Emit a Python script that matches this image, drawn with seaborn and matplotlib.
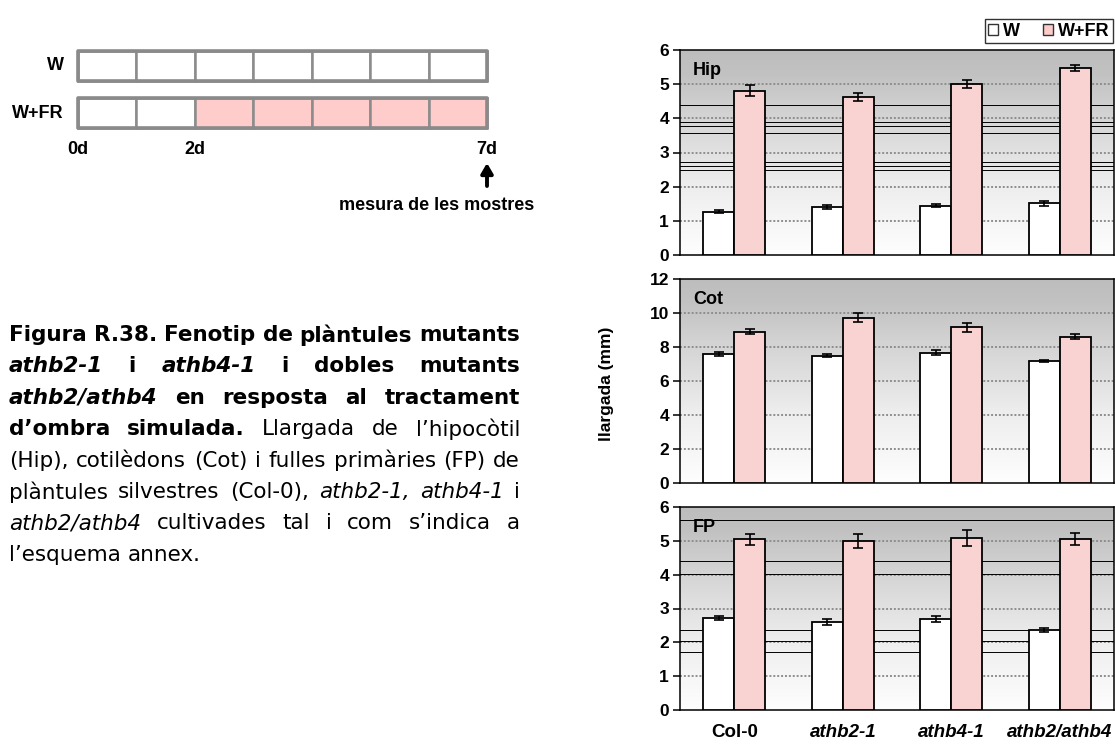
import numpy as np
import pandas as pd
import matplotlib
matplotlib.use("Agg")
import matplotlib.pyplot as plt
import seaborn as sns
from matplotlib.colors import LinearSegmentedColormap
from matplotlib.patches import Rectangle, Patch

# ---------------- data ----------------
genotypes = ["Col-0", "athb2-1", "athb4-1", "athb2/athb4"]
treatments = ["W", "W+FR"]

hip_W = [1.27, 1.41, 1.44, 1.51]
hip_W_err = [0.04, 0.05, 0.045, 0.07]
hip_FR = [4.81, 4.63, 5.01, 5.47]
hip_FR_err = [0.17, 0.11, 0.11, 0.09]

cot_W = [7.60, 7.50, 7.67, 7.17]
cot_W_err = [0.12, 0.10, 0.13, 0.08]
cot_FR = [8.91, 9.73, 9.16, 8.61]
cot_FR_err = [0.17, 0.25, 0.28, 0.15]

fp_W = [2.73, 2.61, 2.69, 2.36]
fp_W_err = [0.06, 0.09, 0.09, 0.06]
fp_FR = [5.05, 4.99, 5.09, 5.05]
fp_FR_err = [0.16, 0.21, 0.23, 0.17]

panel_names = ["Hip", "Cot", "FP"]
panel_ymax = [6, 12, 6]
panel_ystep = [1, 2, 1]
# thin stray lines visible in the original image
hip_stray = [4.38, 3.90, 3.78, 3.56, 2.73, 2.60, 2.49]
cot_stray = []
fp_stray = [5.63, 4.39, 4.02, 2.35, 2.03, 1.70]

# schematic
n_days = 7
fr_start_day = 2
schematic_rows = ["W", "W+FR"]
day_labels = ["0d", "2d", "7d"]
day_label_pos = [0, 2, 7]
measure_text = "mesura de les mostres"

# caption (runs of text with style: b bold, bi bold-italic, r regular, i italic)
caption_lines = [
    [("Figura R.38. Fenotip de plàntules mutants", "b")],
    [("athb2-1", "bi"), ("i", "b"), ("athb4-1", "bi"), ("i", "b"), ("dobles mutants", "b")],
    [("athb2/athb4", "bi"), ("en resposta al tractament", "b")],
    [("d’ombra simulada.", "b"), ("Llargada de l’hipocòtil", "r")],
    [("(Hip), cotilèdons (Cot) i fulles primàries (FP) de", "r")],
    [("plàntules silvestres (Col-0),", "r"), ("athb2-1, athb4-1", "i"), ("i", "r")],
    [("athb2/athb4", "i"), ("cultivades tal i com s’indica a", "r")],
    [("l’esquema annex.", "r")],
]

# ---------------- figure ----------------
W_PX, H_PX = 1115, 747
fig = plt.figure(figsize=(W_PX / 100, H_PX / 100), dpi=100)
fig.patch.set_facecolor("white")


def rect(l, t, w, h):
    return [l / W_PX, 1 - (t + h) / H_PX, w / W_PX, h / H_PX]


PANEL_FONT = "Liberation Sans"
PINK = "#ffcccc"

ov = fig.add_axes([0, 0, 1, 1], zorder=0)
ov.set_xlim(0, W_PX)
ov.set_ylim(H_PX, 0)
ov.axis("off")

# ---- schematic ----
sx0, sx1 = 78, 487
cw = (sx1 - sx0) / n_days
row_tops = [51, 98]
row_h = 30
for r, (name, top) in enumerate(zip(schematic_rows, row_tops)):
    for d in range(n_days):
        fc = PINK if (name == "W+FR" and d >= fr_start_day) else "white"
        ov.add_patch(Rectangle((sx0 + d * cw, top), cw, row_h, facecolor=fc,
                               edgecolor="#8c8c8c", lw=1.8))
    ov.add_patch(Rectangle((sx0, top), sx1 - sx0, row_h, facecolor="none",
                           edgecolor="#8a8a8a", lw=2.6, joinstyle="round"))
    ov.text(64, top + row_h / 2, name, ha="right", va="center", fontsize=13,
            fontweight="bold", family=PANEL_FONT)
for lab, pos in zip(day_labels, day_label_pos):
    ov.text(sx0 + pos * cw, 149, lab, ha="center", va="center", fontsize=13,
            fontweight="bold", family=PANEL_FONT)
ov.annotate("", xy=(sx1, 163), xytext=(sx1, 186),
            arrowprops=dict(arrowstyle="-|>,head_width=0.35,head_length=0.6",
                            color="black", lw=2.8, shrinkA=0, shrinkB=0))
ov.text(437, 206, measure_text, ha="center", va="center", fontsize=13,
        fontweight="bold", family=PANEL_FONT)

# ---- caption (justified) ----
renderer = fig.canvas.get_renderer()
styles = {
    "b": dict(fontweight="bold", fontstyle="normal"),
    "bi": dict(fontweight="bold", fontstyle="italic"),
    "r": dict(fontweight="normal", fontstyle="normal"),
    "i": dict(fontweight="normal", fontstyle="italic"),
}
CAP_FONT = "DejaVu Sans"


def wwidth(txt, st, size):
    t = fig.text(0, 0, txt, fontsize=size, family=CAP_FONT, **styles[st])
    w = t.get_window_extent(renderer).width
    t.remove()
    return w


cx0, cx1 = 9, 520
cap_w = cx1 - cx0
ref = caption_lines[4]
base = 10.0
words_ref = [(w, st) for txt, st in ref for w in txt.split(" ")]
space_ref = wwidth("a a", "r", base) - 2 * wwidth("a", "r", base)
nat = sum(wwidth(w, st, base) for w, st in words_ref) + space_ref * (len(words_ref) - 1)
cap_size = base * cap_w / nat * 0.99

y_first = 335
line_dy = 31.4
for i, runs in enumerate(caption_lines):
    words = [(w, st) for txt, st in runs for w in txt.split(" ")]
    widths = [wwidth(w, st, cap_size) for w, st in words]
    y = y_first + i * line_dy
    if i < len(caption_lines) - 1 and len(words) > 1:
        gap = (cap_w - sum(widths)) / (len(words) - 1)
    else:
        gap = wwidth("a a", "r", cap_size) - 2 * wwidth("a", "r", cap_size)
    x = cx0
    for (w, st), wd in zip(words, widths):
        ov.text(x, y, w, ha="left", va="center", fontsize=cap_size,
                family=CAP_FONT, **styles[st])
        x += wd + gap

# ---- bar panels ----
grad_cmap = LinearSegmentedColormap.from_list(
    "g", [(0, "#fefefe"), (0.35, "#ededed"), (0.7, "#d2d2d2"), (0.88, "#c2c2c2"), (1, "#bdbdbd")])

panel_rects = [rect(680, 50, 434, 205), rect(680, 279, 434, 204), rect(680, 507, 434, 203)]
panel_data = [
    (hip_W, hip_W_err, hip_FR, hip_FR_err, hip_stray),
    (cot_W, cot_W_err, cot_FR, cot_FR_err, cot_stray),
    (fp_W, fp_W_err, fp_FR, fp_FR_err, fp_stray),
]

for k, (name, ymax, ystep, prect, (w, we, f, fe, stray)) in enumerate(
        zip(panel_names, panel_ymax, panel_ystep, panel_rects, panel_data)):
    ax = fig.add_axes(prect, zorder=2)
    df = pd.DataFrame({
        "genotype": genotypes * 2,
        "treatment": ["W"] * 4 + ["W+FR"] * 4,
        "value": list(w) + list(f),
    })
    errs = {"W": we, "W+FR": fe}
    sns.barplot(data=df, x="genotype", y="value", hue="treatment", order=genotypes,
                hue_order=treatments, palette={"W": "white", "W+FR": PINK},
                edgecolor="black", linewidth=1.3, width=0.57, gap=0,
                errorbar=None, legend=False, ax=ax, zorder=3)
    for cont, tr in zip(ax.containers, treatments):
        vals = df[df.treatment == tr].set_index("genotype").loc[genotypes, "value"].values
        for bar, v, e in zip(cont, vals, errs[tr]):
            xc = bar.get_x() + bar.get_width() / 2
            ax.errorbar(xc, v, yerr=e, fmt="none", ecolor="black", elinewidth=1.2,
                        capsize=3.6, capthick=1.2, zorder=4)
    ax.set_xlim(-0.5, 3.5)
    ax.set_ylim(0, ymax)
    ax.imshow(np.linspace(0, 1, 256).reshape(-1, 1), extent=[-0.5, 3.5, 0, ymax],
              origin="lower", aspect="auto", cmap=grad_cmap, zorder=0)
    ax.set_yticks(np.arange(0, ymax + 0.01, ystep))
    for yy in np.arange(ystep, ymax, ystep):
        ax.axhline(yy, color="#8e8e8e", lw=1.4, linestyle=(0, (1, 1)), zorder=1)
    for yy in stray:
        ax.axhline(yy, color="black", lw=0.7, zorder=1.5)
    ax.set_xlabel("")
    ax.set_ylabel("")
    for sp in ax.spines.values():
        sp.set_color("black")
        sp.set_linewidth(1.1)
    ax.tick_params(axis="y", length=5, width=1.1, direction="out", pad=3)
    ax.set_yticklabels([f"{int(t)}" for t in ax.get_yticks()],
                       fontsize=12.5, fontweight="bold", family=PANEL_FONT)
    ax.tick_params(axis="x", length=0)
    if k < 2:
        ax.set_xticklabels([])
    else:
        ax.set_xticks(range(len(genotypes)))
        ax.set_xticklabels(genotypes, fontsize=13.5, fontweight="bold", family=PANEL_FONT)
        for lbl in ax.get_xticklabels():
            if lbl.get_text() != "Col-0":
                lbl.set_fontstyle("italic")
        ax.tick_params(axis="x", pad=10)
    ax.text(0.03, 0.94, name, transform=ax.transAxes, ha="left", va="top",
            fontsize=13, fontweight="bold", family=PANEL_FONT, zorder=5)

fig.text(606 / W_PX, 1 - 384 / H_PX, "llargada (mm)", rotation=90, ha="center",
         va="center", fontsize=12.5, fontweight="bold", family=PANEL_FONT)

handles = [Patch(facecolor="white", edgecolor="#333333", lw=1.0),
           Patch(facecolor=PINK, edgecolor="#333333", lw=1.0)]
leg = fig.legend(handles, treatments, loc="upper right",
                 bbox_to_anchor=(1113 / W_PX, 1 - 19 / H_PX), ncol=2, frameon=True,
                 fancybox=False, edgecolor="black", borderpad=0.2, handlelength=0.55,
                 handleheight=0.55, handletextpad=0.25, columnspacing=1.3,
                 borderaxespad=0, prop=dict(family=PANEL_FONT, weight="bold", size=13))
leg.get_frame().set_linewidth(1.0)

fig.savefig("out.png", dpi=100, facecolor="white")
